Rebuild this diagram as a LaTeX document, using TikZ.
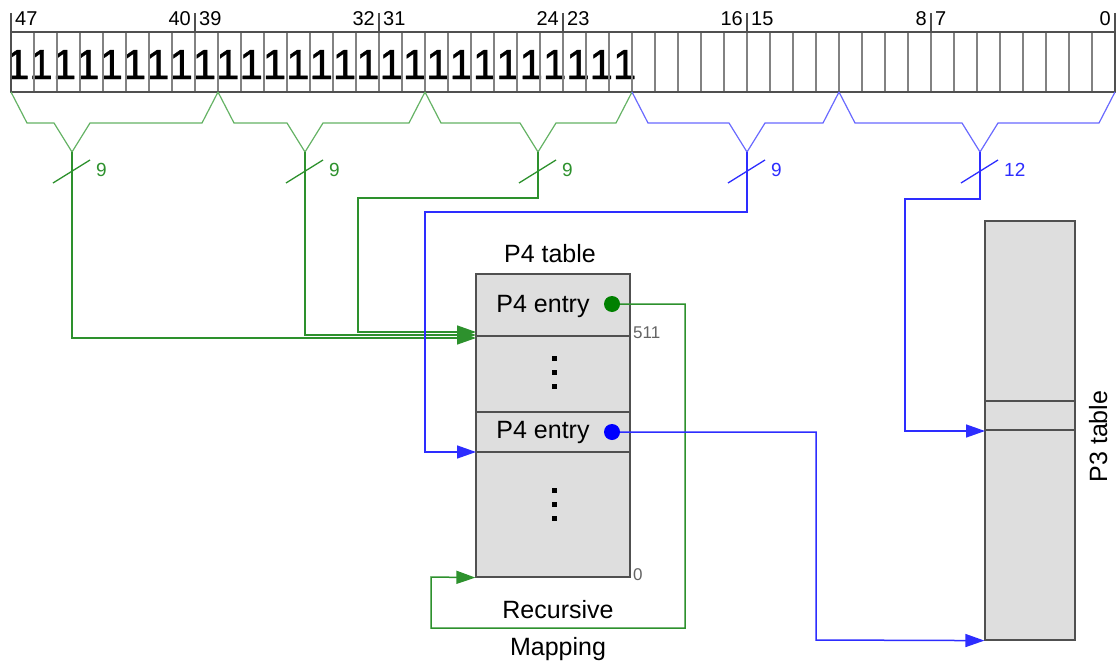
\documentclass[tikz,border=0pt]{standalone}
\usepackage{fontspec}
\setmainfont{Liberation Sans}
\newfontface\heavyone[FakeBold=1]{Liberation Sans}
\usetikzlibrary{arrows.meta}

\definecolor{grn}{RGB}{45,145,45}
\definecolor{grnlt}{RGB}{100,178,100}
\definecolor{blu}{RGB}{45,45,255}
\definecolor{blult}{RGB}{105,105,255}
\definecolor{tblfill}{RGB}{222,222,222}
\definecolor{edge}{RGB}{80,80,80}
\definecolor{cellline}{RGB}{130,130,130}
\definecolor{idxgray}{RGB}{100,100,100}

\tikzset{
  brace/.style={line width=1.2pt, line join=miter},
  wire/.style={line width=1.5pt},
  tipped/.style={-{Triangle[length=19pt,width=13pt]}},
  tablebox/.style={rectangle, fill=tblfill, draw=edge, line width=1.2pt, inner sep=0pt},
  rowline/.style={draw=edge, line width=1.2pt},
  bitlabel/.style={inner sep=0pt, font=\fontsize{20}{24}\selectfont},
  bigone/.style={inner sep=0pt, anchor=base, font=\fontsize{42}{48}\heavyone},
  widthlabel/.style={inner sep=0pt, anchor=west, font=\fontsize{19}{23}\selectfont},
  title/.style={inner sep=0pt, font=\fontsize{25}{30}\selectfont},
  idx/.style={inner sep=0pt, text=idxgray, font=\fontsize{17}{20}\selectfont},
  entrydot/.style={circle, inner sep=0pt, minimum size=16pt},
  ellip/.style={fill=black, minimum size=5pt, inner sep=0pt, rectangle},
}

\newcommand{\fieldbrace}[5]{%
  % #1 left x, #2 right x, #3 notch x, #4 colour, #5 name
  \draw[brace, #4] (#1,92) -- ({#1+16},123) -- ({#3-18},123) -- (#3,152)
        -- ({#3+18},123) -- ({#2-16},123) -- (#2,92);
  \coordinate (#5) at (#3,152);
}

\begin{document}
\begin{tikzpicture}[x=1pt, y=-1pt]
\useasboundingbox (0,0) rectangle (1119,661);

% ---- 48-bit virtual address register ----
\begin{scope}
  \clip (11,32) rectangle (1115,92);
  \foreach \i in {0,...,26}
    \node[bigone] at ({17.8+23.34*\i},79) {1};
\end{scope}
\foreach \k in {1,...,47}
  \draw[cellline, line width=1.1pt] ({11+23*\k},32) -- ({11+23*\k},92);
\draw[edge, line width=1.2pt] (11,32) rectangle (1115,92);
\foreach \k in {0,...,6}
  \draw[edge, line width=1.2pt] ({11+184*\k},13) -- ({11+184*\k},32);

% bit numbers
\node[bitlabel, anchor=base west] (b47) at (15,26) {47};
\foreach \hi/\lo [count=\k] in {40/39,32/31,24/23,16/15,8/7} {
  \node[bitlabel, anchor=base east] at ({11+184*\k-4},26) {\hi};
  \node[bitlabel, anchor=base west] at ({11+184*\k+4},26) {\lo};
}
\node[bitlabel, anchor=base east] (b0) at (1111,26) {0};

% ---- braces grouping the index fields ----
\fieldbrace{11}{218}{72}{grnlt}{n1}
\fieldbrace{218}{425}{305}{grnlt}{n2}
\fieldbrace{425}{632}{538}{grnlt}{n3}
\fieldbrace{632}{839}{747}{blult}{n4}
\fieldbrace{839}{1115}{980}{blult}{n5}

% width marks on the buses
\foreach \n/\x/\c/\w in {n1/72/grn/9, n2/305/grn/9, n3/538/grn/9, n4/747/blu/9, n5/980/blu/12} {
  \draw[\c, line width=1.3pt] ({\x-19},183) -- ({\x+18},160);
  \node[widthlabel, text=\c] at ({\x+24},170) {\w};
}

% ---- P4 table ----
\node[tablebox, minimum width=154pt, minimum height=303pt] (p4) at (553,425.5) {};
\node[title, anchor=base] (p4t) at (550,262.5) {P4 table};
\draw[rowline] (476,336) -- (630,336);
\draw[rowline] (476,412) -- (630,412);
\draw[rowline] (476,452) -- (630,452);
\node[title, anchor=base] (e1) at (543,312) {P4 entry};
\node[title, anchor=base] (e2) at (543,438.5) {P4 entry};
\node[entrydot, fill=green!50!black] (dotG) at (612,304) {};
\node[entrydot, fill=blue] (dotB) at (612,432) {};
\foreach \y [count=\j] in {358,372,386} \node[ellip] (da\j) at (554,\y) {};
\foreach \y [count=\j] in {490,504,518} \node[ellip] (db\j) at (554,\y) {};
\node[idx, anchor=base west] (i511) at (633,338) {511};
\node[idx, anchor=base west] (i0) at (633,580) {0};
\node[title, anchor=base] (rec) at (558,618) {Recursive};
\node[title, anchor=base] (map) at (558,655) {Mapping};

% entry points on the left side of the P4 table
\coordinate (inA) at (476,338);
\coordinate (inB) at (476,335);
\coordinate (inC) at (476,332);
\coordinate (inD) at (476,452);

% ---- P3 table ----
\node[tablebox, minimum width=90pt, minimum height=419pt] (p3) at (1030,430.5) {};
\draw[rowline] (985,401) -- (1075,401);
\draw[rowline] (985,430) -- (1075,430);
\node[title, rotate=90, anchor=base] (p3t) at (1107,436.5) {P3 table};
\coordinate (inE) at (985,431);

% ---- index buses ----
\draw[wire, grn, tipped] (n1) |- (inA);
\draw[wire, grn, tipped] (n2) |- (inB);
\draw[wire, grn, tipped] (n3) |- (358,198) |- (inC);
\draw[wire, blu, tipped] (n4) |- (425,212) |- (inD);
\draw[wire, blu, tipped] (n5) |- (905,199) |- (inE);

% entry pointers
\draw[wire, grn, tipped] (dotG.east) -| (685,628) -| (431,577) -- (p4.south west);
\draw[wire, blu, tipped] (dotB.east) -| (816,640) -- (p3.south west);
\end{tikzpicture}
\end{document}
